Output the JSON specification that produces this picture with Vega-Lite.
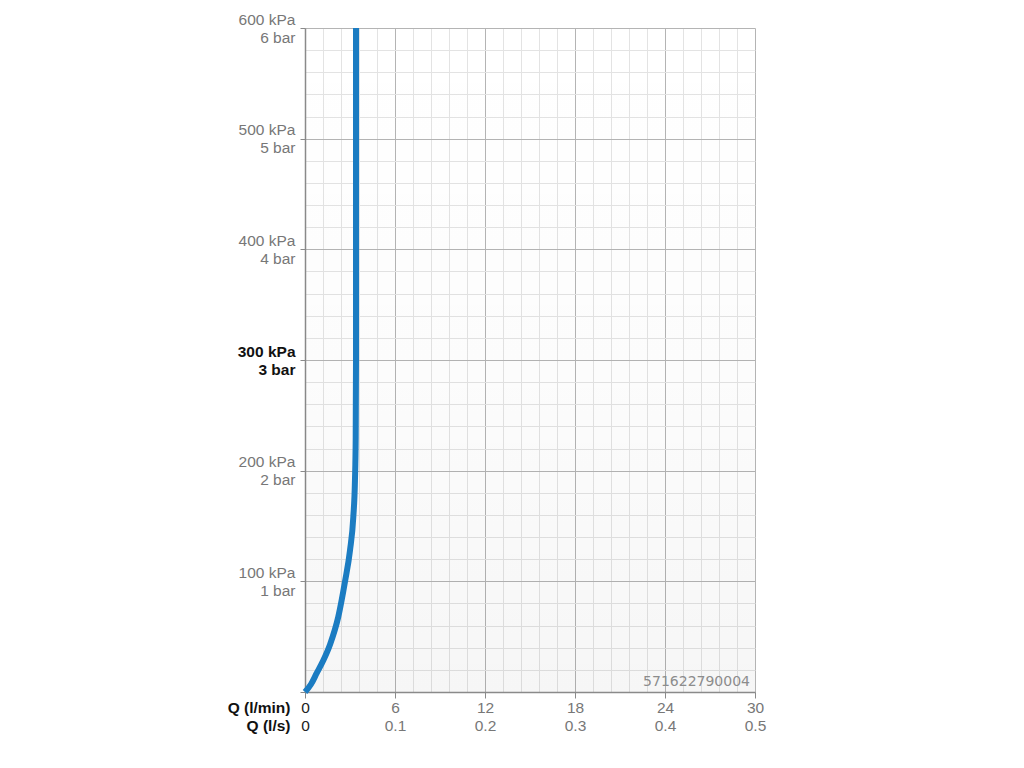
{
  "$schema": "https://vega.github.io/schema/vega-lite/v6.json",
  "width": 450,
  "height": 664,
  "autosize": "none",
  "padding": {"left": 305, "top": 28, "right": 269, "bottom": 76},
  "background": "white",
  "config": {"view": {"stroke": null}, "font": "Liberation Sans"},
  "resolve": {"axis": {"x": "independent", "y": "independent"}},
  "layer": [
    {
      "data": {"values": [{"q0": 0, "q1": 30, "p0": 0, "p1": 600}]},
      "mark": {
        "type": "rect",
        "fill": {"gradient": "linear", "x1": 0, "y1": 0, "x2": 0, "y2": 1,
          "stops": [{"offset": 0, "color": "rgba(0,0,0,0)"}, {"offset": 0.5, "color": "rgba(0,0,0,0.012)"}, {"offset": 1, "color": "rgba(0,0,0,0.035)"}]}
      },
      "encoding": {
        "x": {"field": "q0", "type": "quantitative", "scale": {"domain": [0, 30], "nice": false},
          "axis": {"orient": "top", "values": [1.2, 2.4, 3.6, 4.8, 7.2, 8.4, 9.6, 10.8, 13.2, 14.4, 15.6, 16.8, 19.2, 20.4, 21.6, 22.8, 25.2, 26.4, 27.6, 28.8],
            "grid": true, "gridColor": "#e3e3e3", "gridWidth": 1, "labels": false, "ticks": false, "domain": false, "title": null}},
        "x2": {"field": "q1"},
        "y": {"field": "p0", "type": "quantitative", "scale": {"domain": [0, 600], "nice": false},
          "axis": {"orient": "right", "values": [20, 40, 60, 80, 120, 140, 160, 180, 220, 240, 260, 280, 320, 340, 360, 380, 420, 440, 460, 480, 520, 540, 560, 580],
            "grid": true, "gridColor": "#e3e3e3", "gridWidth": 1, "labels": false, "ticks": false, "domain": false, "title": null}},
        "y2": {"field": "p1"}
      }
    },
    {
      "data": {"values": [
        {"flow": 0, "pressure": 0},
        {"flow": 0.4, "pressure": 7},
        {"flow": 0.78, "pressure": 17},
        {"flow": 1.2, "pressure": 28},
        {"flow": 1.67, "pressure": 43},
        {"flow": 2.22, "pressure": 68},
        {"flow": 2.67, "pressure": 100},
        {"flow": 3.0, "pressure": 128},
        {"flow": 3.22, "pressure": 158},
        {"flow": 3.33, "pressure": 191},
        {"flow": 3.38, "pressure": 230},
        {"flow": 3.4, "pressure": 300},
        {"flow": 3.4, "pressure": 600}
      ]},
      "mark": {"type": "line", "color": "#1b7cc2", "strokeWidth": 6, "interpolate": "monotone", "strokeCap": "butt"},
      "encoding": {
        "x": {"field": "flow", "type": "quantitative", "scale": {"domain": [0, 30], "nice": false},
          "axis": {"orient": "bottom", "values": [0, 6, 12, 18, 24, 30], "grid": true, "gridColor": "#b4b4b4", "gridWidth": 1,
            "domain": true, "domainColor": "#8a8a8a", "domainWidth": 1.5, "ticks": true, "tickColor": "#8a8a8a", "tickSize": 6,
            "labelExpr": "[datum.value + '', format(datum.value / 60, '.1~f')]",
            "labelFontSize": 15.5, "labelLineHeight": 18, "labelPadding": 2, "labelBaseline": "top",
            "labelColor": {"condition": {"test": "datum.value === 0", "value": "#222222"}, "value": "#777777"},
            "labelFlush": false, "labelOverlap": false,
            "title": ["Q (l/min)", "Q (l/s)"], "titleFontSize": 15.5, "titleFontWeight": "bold", "titleColor": "#111111",
            "titleLineHeight": 18, "titleAlign": "right", "titleBaseline": "top", "titleX": -15, "titleY": 8, "titleAngle": 0}},
        "y": {"field": "pressure", "type": "quantitative", "scale": {"domain": [0, 600], "nice": false},
          "axis": {"orient": "left", "values": [0, 100, 200, 300, 400, 500, 600], "grid": true, "gridColor": "#b4b4b4", "gridWidth": 1,
            "domain": true, "domainColor": "#8a8a8a", "domainWidth": 1.5, "ticks": true, "tickColor": "#8a8a8a", "tickSize": 5,
            "labelExpr": "datum.value === 0 ? '' : [datum.value + ' kPa', (datum.value / 100) + ' bar']",
            "labelFontSize": 15.5, "labelLineHeight": 18, "labelPadding": 5, "labelBaseline": "middle", "labelOffset": -9,
            "labelFontWeight": {"condition": {"test": "datum.value === 300", "value": "bold"}, "value": "normal"},
            "labelColor": {"condition": {"test": "datum.value === 300", "value": "#111111"}, "value": "#777777"},
            "labelFlush": false, "labelOverlap": false, "title": null}}
      }
    },
    {
      "data": {"values": [{"q": 30, "p": 0, "code": "571622790004"}]},
      "mark": {"type": "text", "align": "right", "baseline": "bottom", "dx": -5, "dy": -3, "fontSize": 14, "color": "#8c8c8c", "font": "DejaVu Sans"},
      "encoding": {
        "x": {"field": "q", "type": "quantitative", "axis": null},
        "y": {"field": "p", "type": "quantitative", "axis": null},
        "text": {"field": "code"}
      }
    }
  ]
}
